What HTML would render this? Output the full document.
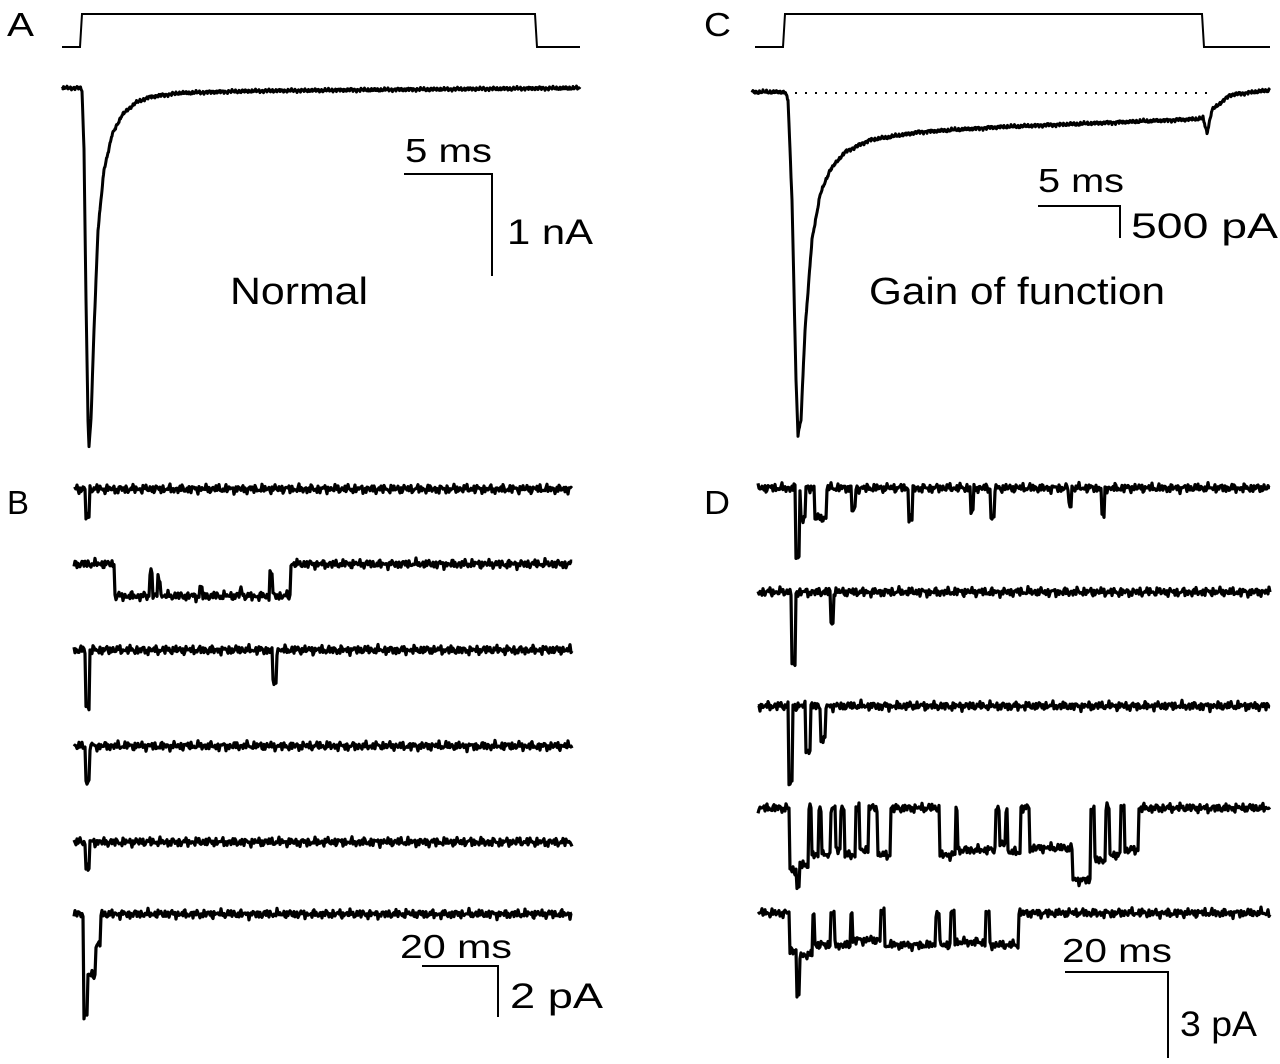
<!DOCTYPE html>
<html><head><meta charset="utf-8">
<style>
html,body{margin:0;padding:0;background:#fff;}
svg{display:block;}
text{font-family:"Liberation Sans",sans-serif;fill:#000;}
</style></head>
<body>
<svg id="fig" width="1280" height="1064" viewBox="0 0 1280 1064" xmlns="http://www.w3.org/2000/svg">
<g id="static">
<text x="7" y="36" font-size="33" textLength="27" lengthAdjust="spacingAndGlyphs">A</text>
<text x="7" y="514" font-size="33" textLength="22" lengthAdjust="spacingAndGlyphs">B</text>
<text x="704" y="36" font-size="33" textLength="27" lengthAdjust="spacingAndGlyphs">C</text>
<text x="704" y="514" font-size="33" textLength="26" lengthAdjust="spacingAndGlyphs">D</text>
<text x="230" y="304" font-size="38" textLength="138" lengthAdjust="spacingAndGlyphs">Normal</text>
<text x="869" y="304" font-size="38" textLength="296" lengthAdjust="spacingAndGlyphs">Gain of function</text>
<text x="405" y="162" font-size="33" textLength="87" lengthAdjust="spacingAndGlyphs">5 ms</text>
<text x="507" y="244" font-size="35" textLength="86" lengthAdjust="spacingAndGlyphs">1 nA</text>
<text x="1038" y="192" font-size="33" textLength="86" lengthAdjust="spacingAndGlyphs">5 ms</text>
<text x="1131" y="238" font-size="35" textLength="147" lengthAdjust="spacingAndGlyphs">500 pA</text>
<text x="400" y="958" font-size="33" textLength="112" lengthAdjust="spacingAndGlyphs">20 ms</text>
<text x="510" y="1008" font-size="35" textLength="93" lengthAdjust="spacingAndGlyphs">2 pA</text>
<text x="1062" y="962" font-size="33" textLength="110" lengthAdjust="spacingAndGlyphs">20 ms</text>
<text x="1180" y="1036" font-size="35" textLength="77" lengthAdjust="spacingAndGlyphs">3 pA</text>
</g>
<g id="scales" stroke="#000" stroke-width="2" fill="none">
<polyline points="404,174 492,174 492,276"/>
<polyline points="1038,206 1120,206 1120,238"/>
<polyline points="422,966 498,966 498,1017"/>
<polyline points="1065,972 1168,972 1168,1058"/>
<polyline points="62,47 80,47 82,14 535,14 537,47 580,47"/>
<polyline points="755,47 783,47 785,14 1202,14 1204,47 1270,47"/>
<line x1="785" y1="93" x2="1215" y2="93" stroke-dasharray="2,8"/>
</g>
<g id="traces"></g>
</svg>
<script>
// Macroscopic currents (keypoints)
const traceAX = [62,80,82,84,86,88,89,91,94,98,104,112,122,135,150,180,250,350,580];
const traceAY = [88,88,90,150,300,420,447,420,330,230,170,135,115,103,97,93,91,90,88];
const traceCX = [752,785,788,792,796,798,801,805,812,820,830,845,870,920,1000,1100,1198,1203,1207,1212,1230,1270];
const traceCY = [92,92,100,200,380,435,420,330,240,195,170,152,140,132,127,123,119,118,133,110,95,90];

// Single channel traces: baselines and events [start, end, level]
const bBaselines = [489,564,650,746,842,914];
const bEvents = [
 [[86,89,517]],
 [[115,290,596],[150,152,572],[158,160,578],[200,202,588],[240,242,590],[270,272,572]],
 [[86,89,707],[273,276,683]],
 [[86,89,782]],
 [[86,89,868]],
 [[84,88,1015],[88,96,975],[96,100,945]]
];
const dBaselines = [488,592,706,808,913];
const dEvents = [
 [[796,799,557],[801,805,518],[815,826,518],[852,855,510],[909,912,519],[971,973,512],[991,994,518],[1069,1071,505],[1102,1104,516]],
 [[792,795,665],[831,833,623]],
 [[789,792,783],[806,810,750],[821,825,740]],
 [[790,797,870],[797,800,888],[800,808,865],[812,818,855],[822,830,855],[836,840,850],[845,855,855],[860,868,850],[878,890,855],[940,955,855],[958,995,850],[1000,1005,845],[1008,1020,852],[1030,1072,848],[1073,1090,880],[1095,1105,860],[1110,1120,855],[1125,1138,850]],
 [[790,797,950],[797,800,997],[800,812,955],[815,830,945],[835,850,945],[853,880,940],[885,935,945],[940,950,945],[955,985,942],[990,1018,945]]
];
const bRange = [74,572];
const dRange = [758,1270];

const NS="http://www.w3.org/2000/svg";
const root=document.getElementById('traces');
function noise(x,i){return 1.3*Math.sin(x*1.9+i*3.1)+1.0*Math.sin(x*3.7+i*1.3)+0.7*Math.sin(x*0.53+i)+0.8*Math.sin(x*7.3+i*0.7);}
function interp(xs,ys,x){
 if(x<=xs[0])return ys[0];
 for(let k=1;k<xs.length;k++){if(x<=xs[k]){const t=(x-xs[k-1])/(xs[k]-xs[k-1]);return ys[k-1]+t*(ys[k]-ys[k-1]);}}
 return ys[ys.length-1];
}
function addPath(d,name,w){
 const p=document.createElementNS(NS,'path');
 p.setAttribute('d',d);p.setAttribute('fill','none');p.setAttribute('stroke','#000');
 p.setAttribute('stroke-width',w);p.setAttribute('stroke-linejoin','round');
 
 
 root.appendChild(p);
}
function macro(xs,ys,name,idx){
 let d='';
 for(let x=xs[0];x<=xs[xs.length-1];x+=0.5){
  const y=interp(xs,ys,x)+0.6*noise(x,idx);
  d+=(d?'L':'M')+x.toFixed(1)+','+y.toFixed(1);
 }
 addPath(d,name,3);
}
function single(range,base,evs,name,idx){
 let d='';
 for(let x=range[0];x<=range[1];x+=1){
  let y=base;
  for(const e of evs){if(x>=e[0]&&x<=e[1]){y=e[2];}}
  y+=noise(x,idx)*1.6;
  d+=(d?'L':'M')+x+','+y.toFixed(1);
 }
 addPath(d,name,3.2);
}
macro(traceAX,traceAY,'current-trace-a',1);
macro(traceCX,traceCY,'current-trace-c',2);
bBaselines.forEach((b,i)=>single(bRange,b,bEvents[i],'single-channel-trace-b'+(i+1),i+3));
dBaselines.forEach((b,i)=>single(dRange,b,dEvents[i],'single-channel-trace-d'+(i+1),i+11));
</script>
</body></html>
